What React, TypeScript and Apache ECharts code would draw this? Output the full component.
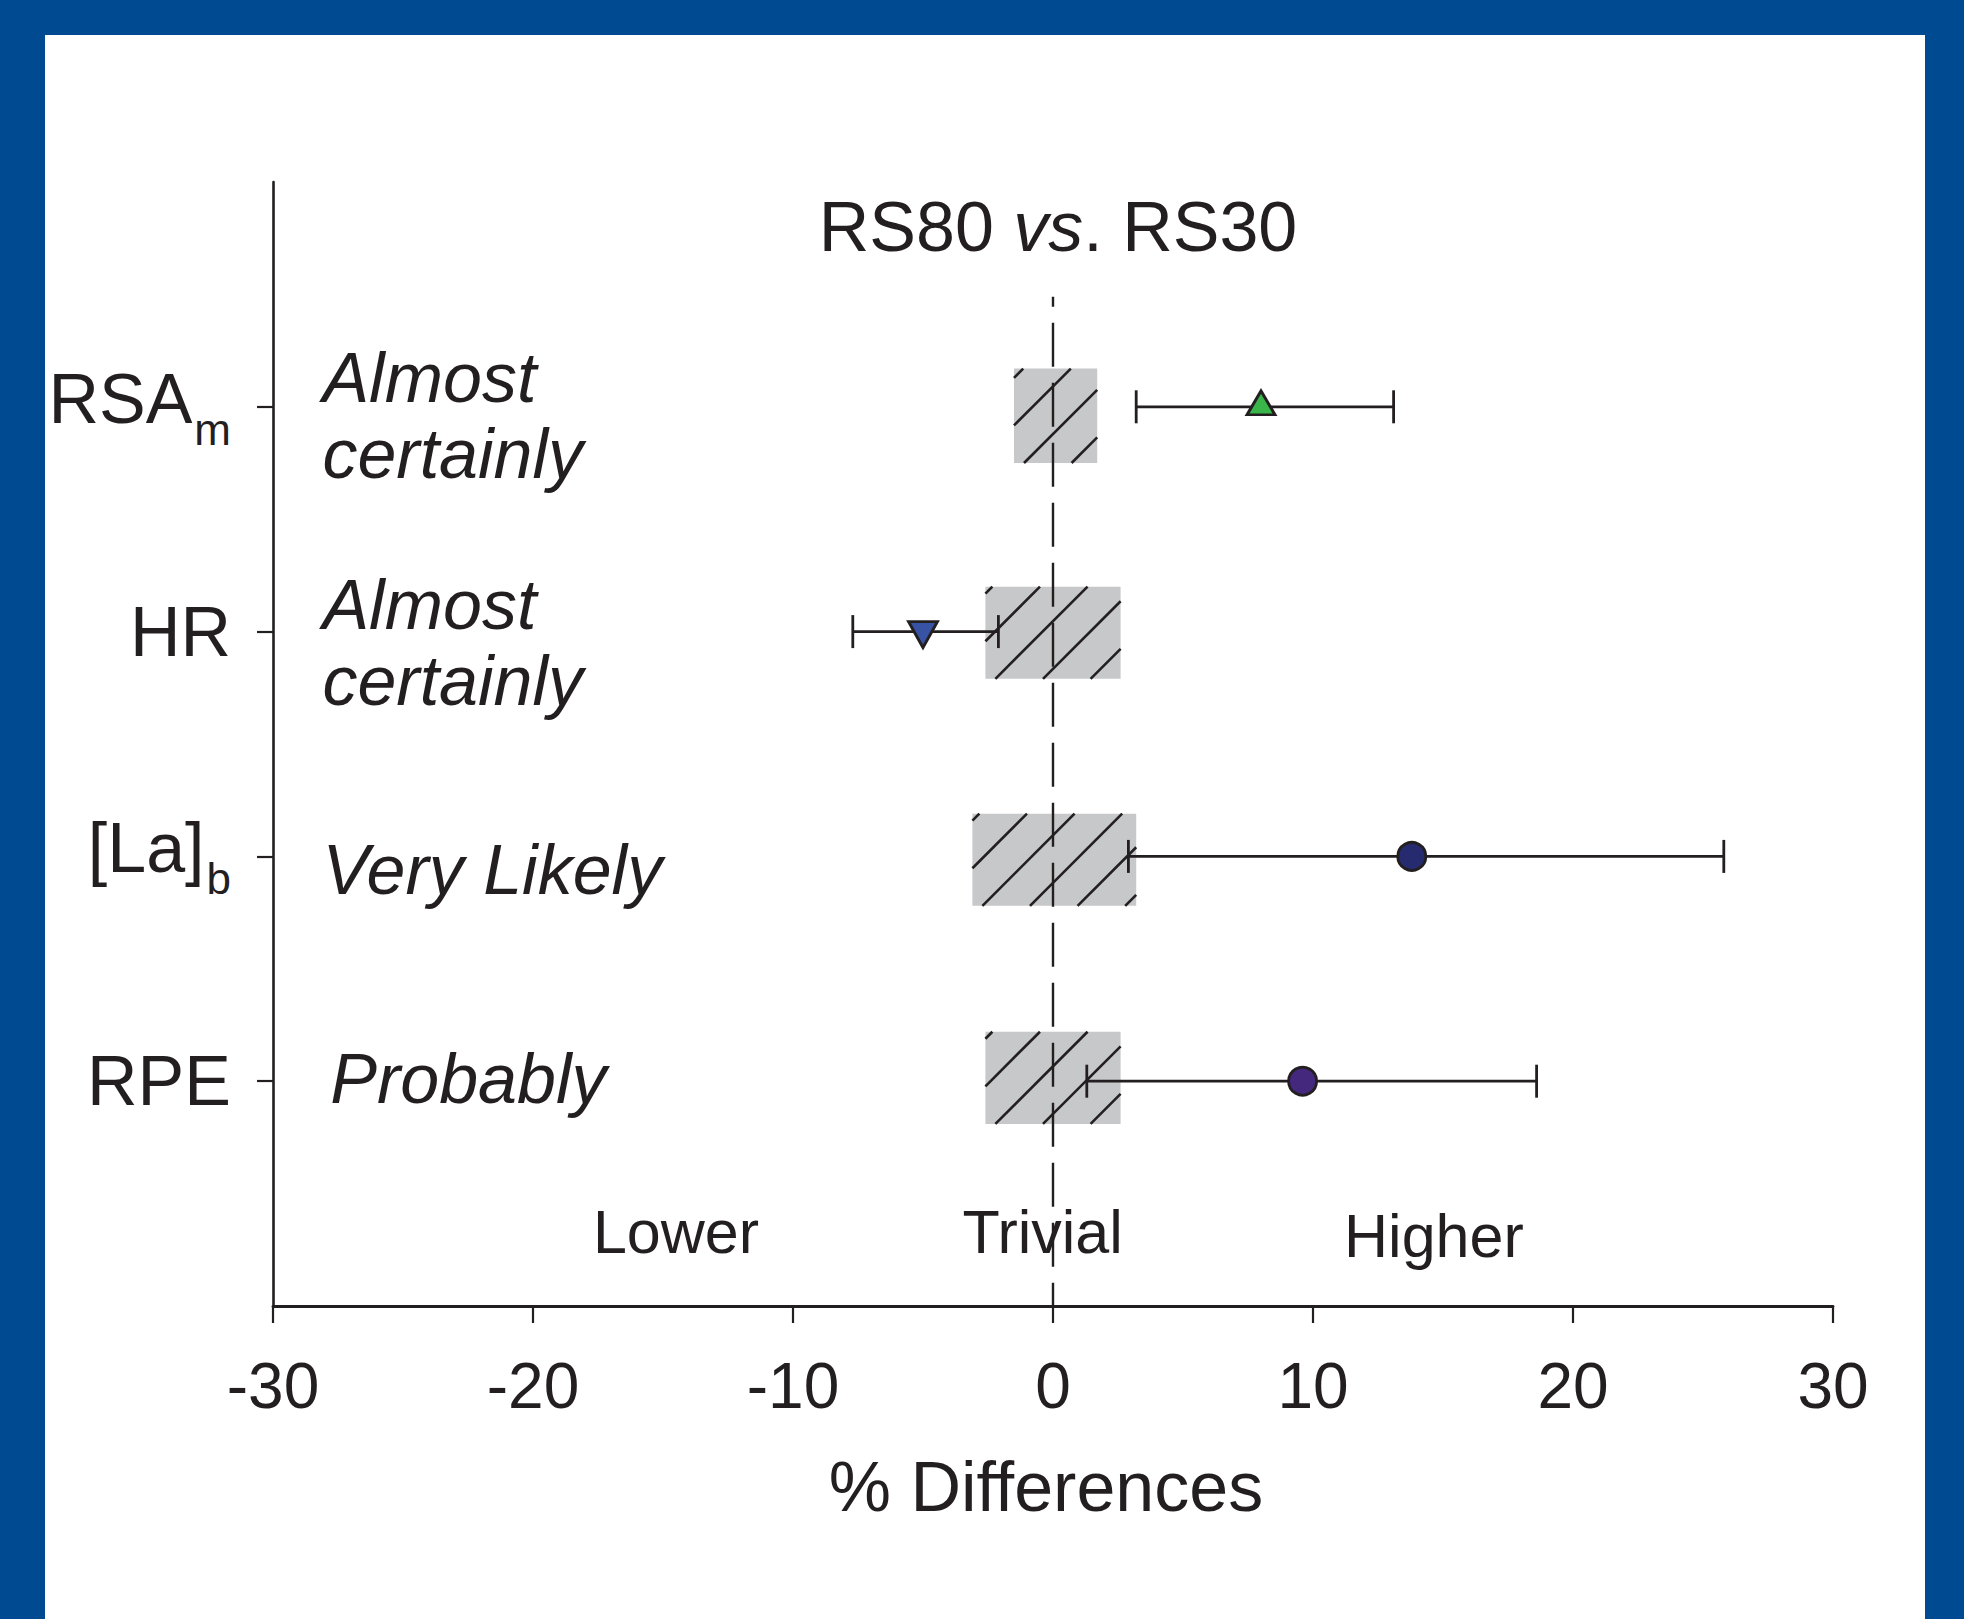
import React, { useEffect, useRef } from "react";
import * as echarts from "echarts";

// ---- data ----
const categories = ["RSA", "HR", "[La]", "RPE"];
const subscripts = ["m", "", "b", ""];
const rowY = [4, 3, 2, 1];
const meanDiff = [8.0, -5.0, 13.8, 9.6];
const ciLower = [3.2, -7.7, 2.9, 1.3];
const ciUpper = [13.1, -2.1, 25.8, 18.6];
const trivialLow = [-1.5, -2.6, -3.1, -2.6];
const trivialHigh = [1.7, 2.6, 3.2, 2.6];
const trivialYLow = [3.75, 2.79, 1.78, 0.81];
const trivialYHigh = [4.17, 3.2, 2.19, 1.22];
const inferences = ["Almost\ncertainly", "Almost\ncertainly", "Very Likely", "Probably"];
const inferenceX = [-28.1, -28.1, -28.1, -27.8];
const inferenceY = [3.96, 2.95, 1.94, 1.01];
const zoneLabels = ["Lower", "Trivial", "Higher"];
const zoneX = [-14.5, -0.4, 14.65];
const zoneY = [0.33, 0.33, 0.31];
const zeroLineY = [4.49, 0];
const xMin = -30;
const xMax = 30;
const xStep = 10;

// ---- styles ----
const F = "'Liberation Sans', Arial, Helvetica, sans-serif";
const INK = "#231f20";
const markerSymbols = ["triangle", "triangle", "circle", "circle"];
const markerRotate = [0, 180, 0, 0];
const markerColors = ["#39b54a", "#3853a4", "#262a6e", "#43287e"];
const markerSizes: any[] = [[28, 24], [29, 26], 28, 28];
const markerOffsets: any[] = [[0, -4], [0, 3], [0, 0], [0, 0]];

export default function App() {
  const ref = useRef<HTMLDivElement>(null);

  useEffect(() => {
    if (!ref.current) return;
    const chart = echarts.init(ref.current, undefined, { renderer: "svg" });

    const boxData = trivialLow.map((lo, i) => [lo, trivialHigh[i], trivialYLow[i], trivialYHigh[i]]);
    const errData = ciLower.map((lo, i) => [lo, ciUpper[i], rowY[i]]);
    const markerData = meanDiff.map((m, i) => ({
      value: [m, rowY[i]],
      symbol: markerSymbols[i],
      symbolRotate: markerRotate[i],
      symbolSize: markerSizes[i],
      symbolOffset: markerOffsets[i],
      itemStyle: { color: markerColors[i], borderColor: INK, borderWidth: 2.8, opacity: 1 },
    }));

    const option: any = {
      animation: false,
      backgroundColor: "transparent",
      grid: { left: 273, top: 182, width: 1560, height: 1124, containLabel: false },
      graphic: [
        {
          type: "text",
          x: 1058,
          y: 227,
          style: {
            text: "{n|RS80 }{i|vs}{n|. RS30}",
            align: "center",
            verticalAlign: "middle",
            rich: {
              n: { fontSize: 70, fontFamily: F, fill: INK },
              i: { fontSize: 70, fontFamily: F, fontStyle: "italic", fill: INK },
            },
          },
        },
      ],
      xAxis: {
        type: "value",
        min: xMin,
        max: xMax,
        interval: xStep,
        name: "% Differences",
        nameLocation: "middle",
        nameGap: 146,
        nameTextStyle: { fontSize: 70, fontFamily: F, color: INK, padding: [0, 14, 0, 0] },
        axisLine: { show: true, onZero: false, lineStyle: { color: INK, width: 2.8 } },
        axisTick: { show: true, length: 17, lineStyle: { color: INK, width: 2.2 } },
        axisLabel: { fontSize: 64, fontFamily: F, color: INK, margin: 48 },
        splitLine: { show: false },
      },
      yAxis: {
        type: "value",
        min: 0,
        max: 5,
        interval: 1,
        axisLine: { show: true, onZero: false, lineStyle: { color: INK, width: 2.6 } },
        axisTick: { show: true, length: 16, customValues: rowY, lineStyle: { color: INK, width: 2.2 } },
        axisLabel: {
          show: true,
          customValues: rowY,
          margin: 42,
          formatter: (v: number) => {
            const i = rowY.indexOf(v);
            if (i < 0) return "";
            return subscripts[i]
              ? `{a|${categories[i]}}{s|${subscripts[i]}}`
              : `{c|${categories[i]}}`;
          },
          rich: {
            a: { fontSize: 70, fontFamily: F, color: INK, lineHeight: 70, padding: [0, 0, 16, 0] },
            s: { fontSize: 44, fontFamily: F, color: INK, lineHeight: 44, padding: [45, 0, 0, 2] },
            c: { fontSize: 70, fontFamily: F, color: INK, lineHeight: 70 },
          },
        },
        splitLine: { show: false },
      },
      series: [
        {
          type: "custom",
          name: "trivial",
          z: 1,
          encode: { x: [0, 1], y: [2, 3] },
          data: boxData,
          renderItem: (params: any, api: any) => {
            const tl = api.coord([api.value(0), api.value(3)]);
            const br = api.coord([api.value(1), api.value(2)]);
            const x0 = tl[0], y0 = tl[1], x1 = br[0], y1 = br[1];
            const children: any[] = [
              { type: "rect", shape: { x: x0, y: y0, width: x1 - x0, height: y1 - y0 }, style: { fill: "#c7c8ca" } },
            ];
            const step = 47.6;
            let s = x0 + y1 + 10;
            while (s - step > x0 + y0) s -= step;
            for (; s < x1 + y1; s += step) {
              const xa = Math.max(x0, s - y1);
              const xb = Math.min(x1, s - y0);
              if (xb - xa > 1) {
                children.push({
                  type: "line",
                  shape: { x1: xa, y1: s - xa, x2: xb, y2: s - xb },
                  style: { stroke: INK, lineWidth: 2.6 },
                });
              }
            }
            return { type: "group", children };
          },
        },
        {
          type: "line",
          name: "zero",
          z: 2,
          data: zeroLineY.map((y) => [0, y]),
          symbol: "none",
          lineStyle: { color: INK, width: 2.4, type: [44, 16], dashOffset: 34 },
          silent: true,
        },
        {
          type: "custom",
          name: "ci",
          z: 3,
          encode: { x: [0, 1], y: 2 },
          data: errData,
          renderItem: (params: any, api: any) => {
            const y = api.value(2);
            const lo = api.coord([api.value(0), y]);
            const hi = api.coord([api.value(1), y]);
            const h = 16.5;
            const style = { stroke: INK, lineWidth: 2.8, fill: "none" };
            return {
              type: "group",
              children: [
                { type: "line", shape: { x1: lo[0], y1: lo[1], x2: hi[0], y2: hi[1] }, style },
                { type: "line", shape: { x1: lo[0], y1: lo[1] - h, x2: lo[0], y2: lo[1] + h }, style },
                { type: "line", shape: { x1: hi[0], y1: hi[1] - h, x2: hi[0], y2: hi[1] + h }, style },
              ],
            };
          },
        },
        {
          type: "scatter",
          name: "mean",
          z: 4,
          itemStyle: { opacity: 1 },
          data: markerData,
        },
        {
          type: "custom",
          name: "inference",
          z: 5,
          encode: { x: 0, y: 1 },
          data: inferenceX.map((x, i) => [x, inferenceY[i]]),
          renderItem: (params: any, api: any) => {
            const p = api.coord([api.value(0), api.value(1)]);
            return {
              type: "text",
              x: p[0],
              y: p[1],
              style: {
                text: inferences[params.dataIndex],
                fontSize: 70,
                fontFamily: F,
                fontStyle: "italic",
                fill: INK,
                align: "left",
                verticalAlign: "middle",
                lineHeight: 76,
              },
            };
          },
        },
        {
          type: "custom",
          name: "zones",
          z: 5,
          encode: { x: 0, y: 1 },
          data: zoneX.map((x, i) => [x, zoneY[i]]),
          renderItem: (params: any, api: any) => {
            const p = api.coord([api.value(0), api.value(1)]);
            return {
              type: "text",
              x: p[0],
              y: p[1],
              style: {
                text: zoneLabels[params.dataIndex],
                fontSize: 61,
                fontFamily: F,
                fill: INK,
                align: "center",
                verticalAlign: "middle",
              },
            };
          },
        },
      ],
    };

    chart.setOption(option);
    return () => chart.dispose();
  }, []);

  return (
    <div style={{ position: "absolute", left: 0, top: 0, width: 1964, height: 1619, background: "#004a91" }}>
      <div style={{ position: "absolute", left: 45, top: 35, width: 1880, height: 1584, background: "#ffffff" }} />
      <div ref={ref} style={{ position: "absolute", left: 0, top: 0, width: 1964, height: 1619 }} />
    </div>
  );
}
